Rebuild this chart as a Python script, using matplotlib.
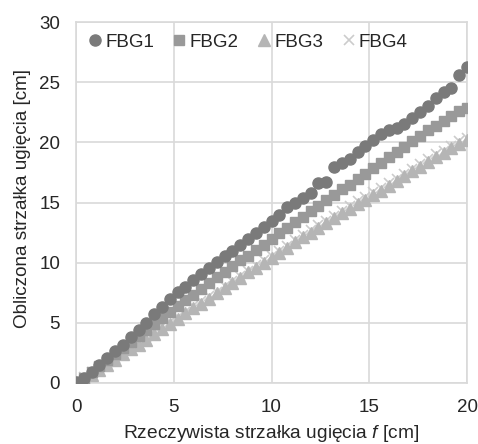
import numpy as np
import matplotlib
matplotlib.use("Agg")
import matplotlib.pyplot as plt

plt.rcParams['font.family'] = ['Liberation Sans', 'DejaVu Sans']
plt.rcParams['mathtext.fontset'] = 'custom'
plt.rcParams['mathtext.it'] = 'Liberation Sans:italic'
plt.rcParams['mathtext.rm'] = 'Liberation Sans'

f_real = [0.0, 0.4, 0.8, 1.2, 1.6, 2.0, 2.4, 2.8, 3.2, 3.6,
          4.0, 4.4, 4.8, 5.2, 5.6, 6.0, 6.4, 6.8, 7.2, 7.6,
          8.0, 8.4, 8.8, 9.2, 9.6, 10.0, 10.4, 10.8, 11.2, 11.6,
          12.0, 12.4, 12.8, 13.2, 13.6, 14.0, 14.4, 14.8, 15.2, 15.6,
          16.0, 16.4, 16.8, 17.2, 17.6, 18.0, 18.4, 18.8, 19.2, 19.6, 20.0]

fbg1 = [0.1, 0.4, 0.9, 1.5, 2.1, 2.7, 3.2, 3.8, 4.4, 5.0,
        5.7, 6.3, 7.0, 7.6, 8.0, 8.6, 9.1, 9.6, 10.1, 10.6,
        11.0, 11.5, 12.0, 12.5, 13.0, 13.5, 14.0, 14.6, 15.0, 15.4,
        15.8, 16.6, 16.7, 18.0, 18.3, 18.6, 19.2, 19.7, 20.2, 20.7,
        21.0, 21.2, 21.5, 22.0, 22.5, 23.0, 23.7, 24.2, 24.5, 25.6, 26.3]

fbg2 = [0.1, 0.4, 0.9, 1.4, 1.9, 2.4, 2.9, 3.4, 3.9, 4.4,
        4.9, 5.4, 5.9, 6.4, 6.9, 7.3, 7.8, 8.3, 8.8, 9.2,
        9.7, 10.2, 10.6, 11.1, 11.5, 12.0, 12.5, 12.9, 13.4, 13.8,
        14.3, 14.7, 15.2, 15.6, 16.1, 16.5, 17.0, 17.4, 17.9, 18.3,
        18.8, 19.2, 19.6, 20.1, 20.5, 21.0, 21.4, 21.8, 22.2, 22.6, 22.9]

fbg3 = [0.0, 0.3, 0.7, 1.1, 1.5, 1.9, 2.4, 2.8, 3.2, 3.6,
        4.1, 4.5, 4.9, 5.3, 5.8, 6.2, 6.6, 7.0, 7.5, 7.9,
        8.3, 8.7, 9.2, 9.6, 10.0, 10.4, 10.8, 11.2, 11.7, 12.1,
        12.5, 12.9, 13.3, 13.7, 14.1, 14.5, 14.9, 15.2, 15.6, 16.0,
        16.4, 16.8, 17.2, 17.6, 18.0, 18.4, 18.8, 19.1, 19.5, 19.9, 20.2]

fbg4 = [0.1, 0.5, 0.9, 1.3, 1.7, 2.1, 2.5, 3.0, 3.4, 3.8,
        4.2, 4.7, 5.1, 5.5, 5.9, 6.4, 6.8, 7.2, 7.6, 8.1,
        8.5, 8.9, 9.3, 9.8, 10.2, 10.6, 11.0, 11.4, 11.9, 12.3,
        12.7, 13.1, 13.5, 13.9, 14.3, 14.7, 15.1, 15.5, 15.9, 16.2,
        16.6, 17.0, 17.4, 17.8, 18.2, 18.6, 19.0, 19.3, 19.7, 20.1, 20.4]

fig = plt.figure(figsize=(4.78, 4.44), dpi=100)
ax = fig.add_axes([0.159, 0.1374, 0.818, 0.8126])

grid_c = '#d9d9d9'
text_c = '#262626'

ax.plot(f_real, fbg4, linestyle='none', marker='x', markersize=7, mew=1.2,
        color='#cccccc', label='FBG4', zorder=3)
ax.plot(f_real, fbg3, linestyle='none', marker='^', markersize=8,
        color='#b5b5b5', label='FBG3', zorder=4)
ax.plot(f_real, fbg2, linestyle='none', marker='s', markersize=7,
        color='#999999', label='FBG2', zorder=5)
ax.plot(f_real, fbg1, linestyle='none', marker='o', markersize=8,
        color='#7a7a7a', label='FBG1', zorder=6)

ax.set_xlim(0, 20)
ax.set_ylim(0, 30)
ax.set_xticks([0, 5, 10, 15, 20])
ax.set_yticks([0, 5, 10, 15, 20, 25, 30])
ax.grid(True, color=grid_c, linewidth=1.2)
ax.set_axisbelow(True)
for s in ax.spines.values():
    s.set_color(grid_c)
    s.set_linewidth(1.2)
ax.tick_params(length=0, labelsize=13.5, colors=text_c)
ax.tick_params(axis='x', pad=11.5)
ax.tick_params(axis='y', pad=11.5)

ax.set_xlabel('Rzeczywista strzałka ugięcia $\\it{f}$ [cm]', fontsize=13.8,
              color=text_c, va='center')
ax.xaxis.set_label_coords(0.5, -0.141)
ax.set_ylabel('Obliczona strzałka ugięcia [cm]', fontsize=13.6,
              color=text_c, va='center')
ax.yaxis.set_label_coords(-0.138, 0.512)

handles, labels = ax.get_legend_handles_labels()
order = [3, 2, 1, 0]
ax.legend([handles[i] for i in order], [labels[i] for i in order],
          loc='center left', ncol=4, frameon=False, fontsize=13.5,
          handlelength=0.6, handletextpad=0.25, columnspacing=1.05,
          bbox_to_anchor=(0.034, 0.9446), borderaxespad=0, borderpad=0,
          labelcolor=text_c)

fig.savefig('out.png', dpi=100)
